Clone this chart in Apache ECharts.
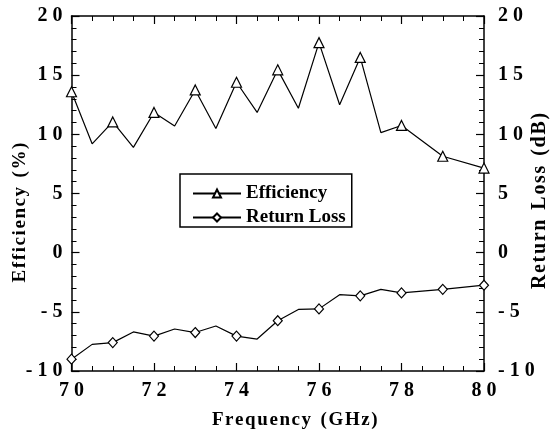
<!DOCTYPE html>
<html>
<head>
<meta charset="utf-8">
<script src="https://cdn.jsdelivr.net/npm/echarts@6/dist/echarts.min.js"></script>
<style>
  html, body { margin: 0; padding: 0; background: #fff; }
  #chart { width: 555px; height: 439px; }
</style>
</head>
<body>
<div id="chart"></div>
<script>
// frecuencias (GHz), eficiencia (%) y return loss (dB)
const freq = [70, 70.5, 71, 71.5, 72, 72.5, 73, 73.5, 74, 74.5, 75, 75.5, 76, 76.5, 77, 77.5, 78, 79, 80];
const efficiency = [13.6, 9.2, 11.05, 8.9, 11.85, 10.7, 13.75, 10.5, 14.4, 11.85, 15.45, 12.2, 17.75, 12.5, 16.5, 10.15, 10.75, 8.15, 7.15];
const returnLoss = [-9.0, -7.75, -7.6, -6.7, -7.05, -6.45, -6.75, -6.2, -7.05, -7.3, -5.75, -4.8, -4.75, -3.55, -3.65, -3.1, -3.4, -3.1, -2.75];
const seriesNames = ["Efficiency", "Return Loss"];

const font = "Liberation Serif";
const spaced = (v) => String(v).split("").join(" ");
// letras algo separadas, como en la figura original
const spread = (s) => s.split("").join("\u200A");
const gap = (n) => "\u00A0".repeat(n);

// solo los puntos enteros llevan marcador
const buildData = (ys) => freq.map((f, i) => {
	const item = { value: [f, ys[i]] };
	if (!Number.isInteger(f)) item.symbol = "none";
	return item;
});

const axisLine = { show: true, onZero: false, lineStyle: { color: "#000", width: 1.5 } };
const labelStyle = { color: "#000", fontFamily: font, fontWeight: "bold", fontSize: 20 };
const nameStyle = { color: "#000", fontFamily: font, fontWeight: "bold", fontSize: 19 };

const xBase = {
	type: "value", min: 70, max: 80, interval: 2,
	axisLine: axisLine,
	axisTick: { inside: true, length: 8, lineStyle: { color: "#000", width: 1.2 } },
	minorTick: { show: true, splitNumber: 4, length: 5, lineStyle: { color: "#000", width: 1 } },
	splitLine: { show: false }
};
const yBase = {
	type: "value", min: -10, max: 20, interval: 5,
	axisLine: axisLine,
	axisTick: { inside: true, length: 8, lineStyle: { color: "#000", width: 1.2 } },
	minorTick: { show: true, splitNumber: 5, length: 5, lineStyle: { color: "#000", width: 1 } },
	splitLine: { show: false },
	nameLocation: "middle",
	nameRotate: 90,
	nameMoveOverlap: false
};

const option = {
	animation: false,
	backgroundColor: "#fff",
	grid: { left: 71.5, right: 71, top: 16, bottom: 68, containLabel: false, outerBoundsMode: "none" },
	legend: {
		data: seriesNames,
		orient: "vertical",
		left: 180,
		top: 174,
		borderColor: "#000",
		borderWidth: 1.5,
		padding: [10, 6, 0, 12],
		itemWidth: 48,
		itemHeight: 10,
		itemGap: 5,
		textStyle: { color: "#000", fontFamily: font, fontWeight: "bold", fontSize: 19 }
	},
	xAxis: [
		Object.assign({}, xBase, {
			position: "bottom",
			axisLabel: Object.assign({ margin: 10, formatter: spaced }, labelStyle),
			name: spread("Frequency") + gap(2) + spread("(GHz)"),
			nameLocation: "middle",
			nameGap: 40,
			nameMoveOverlap: false,
			nameTextStyle: Object.assign({ padding: [0, 0, 0, 34] }, nameStyle)
		}),
		Object.assign({}, xBase, { position: "top", axisLabel: { show: false } })
	],
	yAxis: [
		Object.assign({}, yBase, {
			position: "left",
			name: spread("Efficiency") + gap(2) + spread("(%)") + gap(8),
			nameGap: 42,
			nameTextStyle: nameStyle,
			axisLabel: Object.assign({ margin: 9, formatter: spaced }, labelStyle)
		}),
		Object.assign({}, yBase, {
			position: "right",
			name: spread("Return") + gap(2) + spread("Loss") + gap(2) + spread("(dB)") + gap(3),
			nameGap: 46,
			nameTextStyle: Object.assign({}, nameStyle, { fontSize: 20 }),
			axisLabel: Object.assign({ margin: 14, formatter: spaced }, labelStyle)
		})
	],
	series: [
		{
			name: seriesNames[0],
			type: "line",
			xAxisIndex: 0,
			yAxisIndex: 0,
			data: buildData(efficiency),
			symbol: "triangle",
			symbolSize: 10,
			lineStyle: { color: "#000", width: 1.2 },
			itemStyle: { color: "#fff", borderColor: "#000", borderWidth: 1.2 }
		},
		{
			name: seriesNames[1],
			type: "line",
			xAxisIndex: 0,
			yAxisIndex: 1,
			data: buildData(returnLoss),
			symbol: "diamond",
			symbolSize: [9, 10],
			lineStyle: { color: "#000", width: 1.2 },
			itemStyle: { color: "#fff", borderColor: "#000", borderWidth: 1.2 }
		}
	]
};

window.addEventListener("load", () => {
	const myChart = echarts.init(document.getElementById("chart"));
	myChart.setOption(option);
	myChart.resize();
});
</script>
</body>
</html>
